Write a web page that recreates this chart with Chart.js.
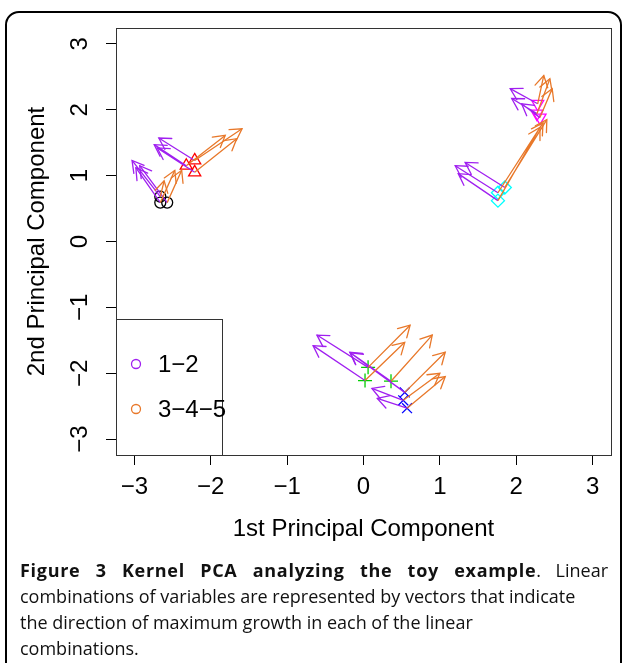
<!DOCTYPE html>
<html><head><meta charset="utf-8">
<script src="https://cdn.jsdelivr.net/npm/chart.js@4.4.1/dist/chart.umd.min.js"></script>
<style>
html,body{margin:0;padding:0;background:#fff;width:624px;height:663px;overflow:hidden;}
#frame{position:absolute;left:5px;top:11px;width:617px;height:720px;border:2px solid #000;border-radius:14px;box-sizing:border-box;}
#wrap{position:absolute;left:0;top:0;width:624px;height:560px;}
.cap{position:absolute;left:20px;width:588px;font-family:'Open Sans',sans-serif;font-size:18px;line-height:26px;color:#111;white-space:nowrap;}
#l1{top:557px;text-align:justify;text-align-last:justify;white-space:normal;}
#l1 b{letter-spacing:0.7px;}
#l2{top:583px;}#l3{top:609px;}#l4{top:635px;}
</style></head>
<body>
<div id="frame"></div>
<div id="wrap"><canvas id="c" width="624" height="560"></canvas></div>
<div class="cap" id="l1"><b>Figure 3 Kernel PCA analyzing the toy example</b>. Linear</div>
<div class="cap" id="l2">combinations of variables are represented by vectors that indicate</div>
<div class="cap" id="l3">the direction of maximum growth in each of the linear</div>
<div class="cap" id="l4">combinations.</div>
<script>
// ---- data (PC1, PC2) ----
const xTicks = [-3, -2, -1, 0, 1, 2, 3];
const yTicks = [-3, -2, -1, 0, 1, 2, 3];
const xTitle = '1st Principal Component';
const yTitle = '2nd Principal Component';
const legendLabels = ['1\u22122', '3\u22124\u22125'];

// six groups of three samples
const circlePts   = [[-2.66,0.68],[-2.66,0.59],[-2.57,0.59]];
const trianglePts = [[-2.32,1.15],[-2.21,1.23],[-2.21,1.05]];
const plusPts     = [[0.06,-1.91],[0.02,-2.11],[0.36,-2.12]];
const crossPts    = [[0.54,-2.29],[0.52,-2.41],[0.57,-2.53]];
const diamondPts  = [[1.76,0.62],[1.76,0.74],[1.85,0.82]];
const downTriPts  = [[2.28,2.09],[2.27,1.94],[2.31,1.88]];

// arrow end points for linear combination 1-2 (purple), per sample in group order
const circleEnd12   = [[-3.03,1.23],[-2.98,1.12],[-2.93,1.15]];
const triangleEnd12 = [[-2.74,1.47],[-2.68,1.57],[-2.70,1.42]];
const plusEnd12     = [[-0.61,-1.42],[-0.66,-1.58],[-0.18,-1.68]];
const crossEnd12    = [[-0.17,-1.69],[0.11,-2.23],[0.18,-2.38]];
const diamondEnd12  = [[1.24,1.03],[1.20,1.15],[1.33,1.20]];
const downTriEnd12  = [[1.92,2.32],[1.94,2.17],[2.07,2.09]];

// arrow end points for linear combination 3-4-5 (orange)
const circleEnd345   = [[-2.61,0.92],[-2.47,1.08],[-2.38,1.08]];
const triangleEnd345 = [[-1.81,1.61],[-1.59,1.71],[-1.66,1.56]];
const plusEnd345     = [[0.61,-1.27],[0.54,-1.53],[0.90,-1.42]];
const crossEnd345    = [[1.07,-1.68],[1.00,-2.00],[1.07,-2.05]];
const diamondEnd345  = [[2.31,1.73],[2.35,1.80],[2.40,1.85]];
const downTriEnd345  = [[2.36,2.52],[2.44,2.47],[2.47,2.32]];

// ---- build ----
const PURPLE = '#A020F0', ORANGE = '#E8782A';
const groups = [
  {pts: circlePts,   e12: circleEnd12,   e345: circleEnd345,   style:'circle',   color:'#000000', r:5.5, rot:0},
  {pts: trianglePts, e12: triangleEnd12, e345: triangleEnd345, style:'triangle', color:'#FF0000', r:7,   rot:0},
  {pts: plusPts,     e12: plusEnd12,     e345: plusEnd345,     style:'cross',    color:'#00CD00', r:7,   rot:0},
  {pts: crossPts,    e12: crossEnd12,    e345: crossEnd345,    style:'crossRot', color:'#0000FF', r:7,   rot:0},
  {pts: diamondPts,  e12: diamondEnd12,  e345: diamondEnd345,  style:'rectRot',  color:'#00FFFF', r:6.5, rot:0},
  {pts: downTriPts,  e12: downTriEnd12,  e345: downTriEnd345,  style:'triangle', color:'#FF00FF', r:7,   rot:180}
];
const xy = p => ({x: p[0], y: p[1]});
function arrowData(key) {
  const d = [];
  groups.forEach(g => g.pts.forEach((p, i) => { d.push(xy(p), xy(g[key][i]), {x: null, y: null}); }));
  return d;
}
const datasets = [];
datasets.push({type:'line', label:'3-4-5', data: arrowData('e345'), borderColor: ORANGE, borderWidth:1.3,
  pointRadius:0, spanGaps:false, tension:0, fill:false, order:0, arrows:true});
datasets.push({type:'line', label:'1-2', data: arrowData('e12'), borderColor: PURPLE, borderWidth:1.3,
  pointRadius:0, spanGaps:false, tension:0, fill:false, order:1, arrows:true});
groups.forEach((g, k) => datasets.push({type:'scatter', label:'g'+k, data: g.pts.map(xy),
  pointStyle: g.style, pointRadius: g.r, pointRotation: g.rot, borderColor: g.color,
  backgroundColor:'rgba(0,0,0,0)', borderWidth:1.3, order:2}));

const FONT = "'Liberation Sans', Arial, sans-serif";
const minus = v => String(v).replace('-', '\u2212');

const arrowHeads = {
  id:'arrowHeads',
  afterDatasetsDraw(chart) {
    const ctx = chart.ctx;
    chart.data.datasets.forEach((ds, i) => {
      if (!ds.arrows) return;
      const els = chart.getDatasetMeta(i).data;
      ctx.save();
      ctx.strokeStyle = ds.borderColor; ctx.lineWidth = ds.borderWidth; ctx.lineCap='round';
      for (let j = 0; j + 1 < els.length; j += 3) {
        const a = els[j], b = els[j+1];
        const ang = Math.atan2(b.y - a.y, b.x - a.x), L = 13, w = Math.PI/6;
        ctx.beginPath();
        ctx.moveTo(b.x - L*Math.cos(ang - w), b.y - L*Math.sin(ang - w));
        ctx.lineTo(b.x, b.y);
        ctx.lineTo(b.x - L*Math.cos(ang + w), b.y - L*Math.sin(ang + w));
        ctx.stroke();
      }
      ctx.restore();
    });
  }
};
const boxAndLegend = {
  id:'boxAndLegend',
  afterDraw(chart) {
    const {ctx, chartArea: a} = chart;
    ctx.save();
    ctx.strokeStyle = '#333'; ctx.lineWidth = 1;
    ctx.strokeRect(Math.round(a.left)+0.5, Math.round(a.top)+0.5, Math.round(a.right-a.left), Math.round(a.bottom-a.top));
    // legend (bottom-left)
    const lw = 106, lh = 136;
    ctx.strokeRect(Math.round(a.left)+0.5, Math.round(a.bottom - lh)+0.5, lw, lh);
    const cols = [PURPLE, ORANGE];
    ctx.font = '24px ' + FONT; ctx.textBaseline = 'middle'; ctx.textAlign = 'left';
    legendLabels.forEach((t, i) => {
      const y = a.bottom - 91 + i*45;
      ctx.beginPath(); ctx.strokeStyle = cols[i]; ctx.lineWidth = 1.3;
      ctx.arc(a.left + 20, y, 4.5, 0, Math.PI*2); ctx.stroke();
      ctx.fillStyle = '#000'; ctx.fillText(t, a.left + 42, y + 1);
    });
    ctx.restore();
  }
};

new Chart(document.getElementById('c'), {
  type:'scatter',
  data:{datasets},
  options:{
    responsive:false, animation:false, devicePixelRatio:1,
    layout:{padding:{top:28, right:13, left:0, bottom:0}},
    plugins:{legend:{display:false}, tooltip:{enabled:false}},
    scales:{
      x:{type:'linear', min:-3.24, max:3.24,
        afterBuildTicks: s => { s.ticks = xTicks.map(v => ({value:v})); },
        afterFit: s => { s.height = 105; },
        ticks:{includeBounds:false, stepSize:1, color:'#000', padding:8, font:{family:FONT, size:24}, callback: minus, autoSkip:false, maxRotation:0},
        grid:{drawOnChartArea:false, drawTicks:true, tickLength:10, color:'#000', tickWidth:1},
        border:{display:false},
        title:{display:true, text:xTitle, color:'#000', font:{family:FONT, size:24}, padding:{top:0, bottom:16}}
      },
      y:{type:'linear', min:-3.24, max:3.24,
        afterBuildTicks: s => { s.ticks = yTicks.map(v => ({value:v})); },
        afterFit: s => { s.width = 116; },
        ticks:{includeBounds:false, stepSize:1, color:'#000', padding:12, font:{family:FONT, size:24}, callback: minus,
          minRotation:90, maxRotation:90, crossAlign:'center', autoSkip:false},
        grid:{drawOnChartArea:false, drawTicks:true, tickLength:10, color:'#000', tickWidth:1},
        border:{display:false},
        title:{display:true, text:yTitle, color:'#000', font:{family:FONT, size:24}, padding:{top:23, bottom:0}}
      }
    }
  },
  plugins:[arrowHeads, boxAndLegend]
});
</script>
</body></html>
